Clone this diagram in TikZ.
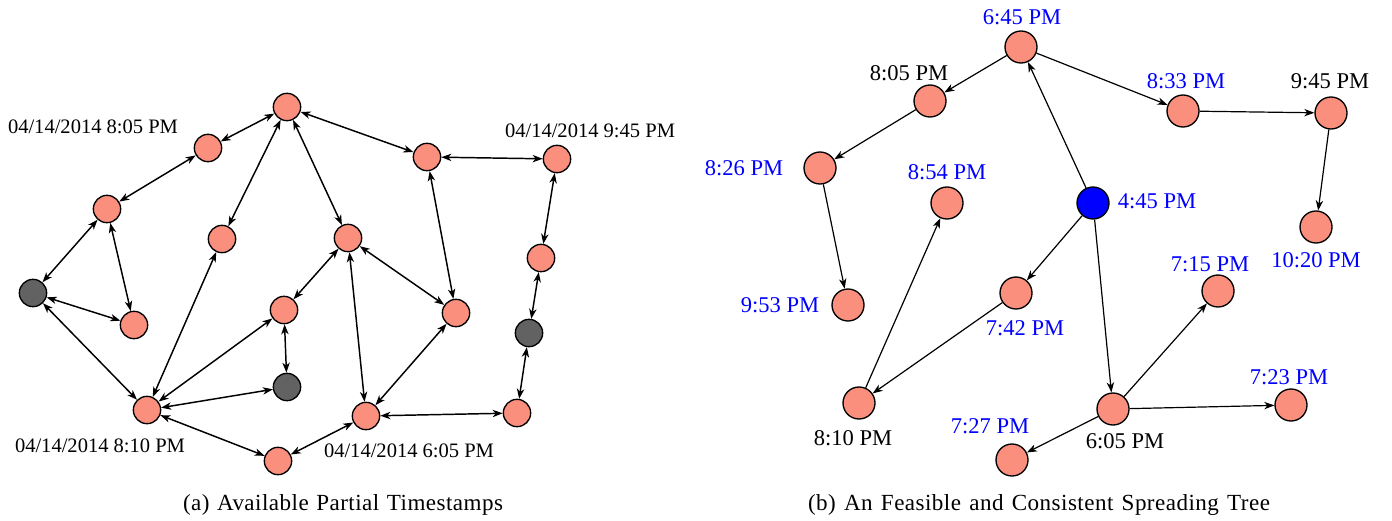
\documentclass[tikz,border=0pt]{standalone}
\usepackage{fontspec}
\setmainfont{Liberation Serif}
\usetikzlibrary{arrows.meta}
\definecolor{salmonfill}{RGB}{250,143,125}
\definecolor{grayfill}{RGB}{98,98,98}
\definecolor{labelblue}{RGB}{0,0,255}
\tikzset{
  lnode/.style={circle,draw=black,line width=1pt,fill=salmonfill,minimum size=20.5pt,inner sep=0pt},
  lgray/.style={lnode,fill=grayfill},
  rnode/.style={circle,draw=black,line width=1pt,fill=salmonfill,minimum size=24pt,inner sep=0pt},
  rsrc/.style={rnode,fill=labelblue},
  ledge/.style={line width=1.1pt,{Stealth[length=7.5pt,width=5.5pt,inset=2.2pt]}-{Stealth[length=7.5pt,width=5.5pt,inset=2.2pt]}},
  redge/.style={line width=0.9pt,-{Stealth[length=7.5pt,width=5.5pt,inset=2.2pt]}},
  ltext/.style={inner sep=0pt,font=\fontsize{15.4}{18}\selectfont},
  rtext/.style={inner sep=0pt,font=\fontsize{16.9}{20}\selectfont},
  rblue/.style={rtext,text=labelblue},
  captext/.style={inner sep=0pt,font=\fontsize{17.3}{20}\selectfont\addfontfeature{LetterSpace=2}}
}
\begin{document}
\begin{tikzpicture}[x=0.75pt,y=-0.75pt]
\useasboundingbox (0,0) rectangle (1392,521);
% ---------- left graph ----------
\node[lnode] (A) at (287,107) {};
\node[lnode] (B) at (208,148) {};
\node[lnode] (C) at (107,209) {};
\node[lgray] (D) at (33,293) {};
\node[lnode] (E) at (134,325) {};
\node[lnode] (F) at (222,239) {};
\node[lnode] (G) at (348,238) {};
\node[lnode] (H) at (427,157) {};
\node[lnode] (I) at (557,159) {};
\node[lnode] (J) at (541,258) {};
\node[lgray] (K) at (529,333) {};
\node[lnode] (L) at (284,310) {};
\node[lgray] (M) at (287,387) {};
\node[lnode] (N) at (147,410) {};
\node[lnode] (O) at (456,313) {};
\node[lnode] (P) at (366,416) {};
\node[lnode] (Q) at (517,413) {};
\node[lnode] (R) at (278,461) {};
\foreach \u/\v in {A/B,B/C,C/D,C/E,D/E,D/N,A/F,F/N,A/G,A/H,H/I,H/O,I/J,J/K,K/Q,G/L,G/O,G/P,L/M,L/N,M/N,N/R,R/P,P/O,P/Q}
  \draw[ledge] (\u) -- (\v);
\node[ltext] (tB) at (93,127) {04/14/2014 8:05 PM};
\node[ltext] (tI) at (590,131) {04/14/2014 9:45 PM};
\node[ltext] (tN) at (100,446) {04/14/2014 8:10 PM};
\node[ltext] (tP) at (409,451) {04/14/2014 6:05 PM};
\node[captext] (capa) at (343,505) {\makebox[240pt][s]{(a) Available Partial Timestamps}};
% ---------- right graph ----------
\node[rnode] (a) at (1021,47) {};
\node[rnode] (b) at (930,101) {};
\node[rnode] (c) at (820,168) {};
\node[rnode] (d) at (947,203) {};
\node[rsrc]  (e) at (1093,203) {};
\node[rnode] (f) at (1183,111) {};
\node[rnode] (g) at (1331,113) {};
\node[rnode] (h) at (1316,227) {};
\node[rnode] (i) at (848,305) {};
\node[rnode] (j) at (1016,293) {};
\node[rnode] (k) at (1218,291) {};
\node[rnode] (l) at (859,403) {};
\node[rnode] (m) at (1113,409) {};
\node[rnode] (n) at (1291,405) {};
\node[rnode] (o) at (1012,460) {};
\foreach \u/\v in {e/a,a/b,a/f,b/c,c/i,f/g,g/h,e/j,j/l,l/d,e/m,m/k,m/n,m/o}
  \draw[redge] (\u) -- (\v);
\node[rblue] (ta) at (1022,17) {6:45 PM};
\node[rtext] (tb) at (909,73) {8:05 PM};
\node[rblue] (tc) at (744,168) {8:26 PM};
\node[rblue] (td) at (947,172) {8:54 PM};
\node[rblue] (te) at (1157,201) {4:45 PM};
\node[rblue] (tf) at (1186,81) {8:33 PM};
\node[rtext] (tg) at (1330,81) {9:45 PM};
\node[rblue] (th) at (1316,260) {10:20 PM};
\node[rblue] (ti) at (780,305) {9:53 PM};
\node[rblue] (tj) at (1025,328) {7:42 PM};
\node[rblue] (tk) at (1210,264) {7:15 PM};
\node[rtext] (tl) at (853,438) {8:10 PM};
\node[rtext] (tm) at (1125,441) {6:05 PM};
\node[rblue] (tn) at (1289,377) {7:23 PM};
\node[rblue] (to) at (990,426) {7:27 PM};
\node[captext] (capb) at (1039,505) {\makebox[346.5pt][s]{(b) An Feasible and Consistent Spreading Tree}};
\end{tikzpicture}
\end{document}
